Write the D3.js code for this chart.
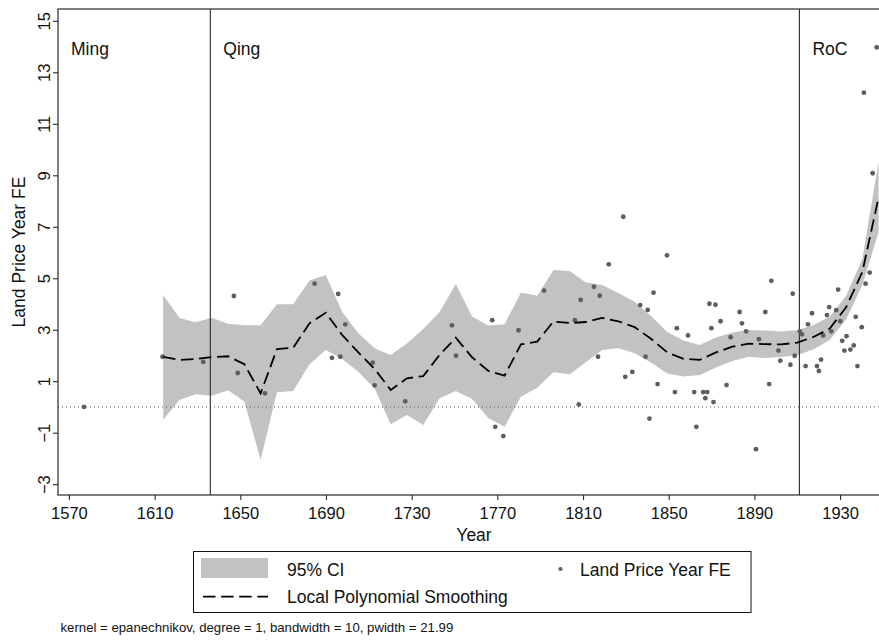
<!DOCTYPE html>
<html>
<head>
<meta charset="utf-8">
<script src="https://cdn.jsdelivr.net/npm/d3@7"></script>
<style>
  body { margin: 0; background: #fff; }
  svg { display: block; font-family: "Liberation Sans", Arial, Helvetica, sans-serif; }
</style>
</head>
<body>
<svg id="chart" width="879" height="640"></svg>
<script>
// Local polynomial fit evaluated on its grid (year, fit, 95% CI bounds)
const gridYears = [1614.0, 1621.6, 1629.1, 1636.7, 1644.3, 1651.9, 1659.5, 1667.1, 1674.7, 1682.3,
  1689.9, 1697.5, 1705.1, 1712.7, 1720.2, 1727.8, 1735.4, 1743.0, 1750.6, 1758.2,
  1765.8, 1773.4, 1781.0, 1788.6, 1796.2, 1803.8, 1811.3, 1818.9, 1826.5, 1834.1,
  1841.7, 1849.3, 1856.9, 1864.5, 1872.1, 1879.7, 1887.3, 1894.9, 1902.5, 1910.0,
  1917.6, 1925.2, 1932.8, 1940.4, 1948.0];
const smoothFit = [1.95, 1.83, 1.86, 1.94, 1.97, 1.66, 0.53, 2.25, 2.30, 3.25,
  3.66, 2.80, 2.12, 1.48, 0.66, 1.11, 1.20, 2.02, 2.69, 1.93,
  1.40, 1.22, 2.43, 2.54, 3.32, 3.26, 3.30, 3.46, 3.33, 3.10,
  2.65, 2.12, 1.87, 1.83, 2.12, 2.34, 2.46, 2.44, 2.43, 2.50,
  2.72, 3.05, 3.87, 5.25, 8.15];
const ciLower = [-0.50, 0.27, 0.49, 0.44, 0.65, 0.21, -2.06, 0.57, 0.62, 1.66,
  2.21, 1.86, 1.37, 0.72, -0.67, -0.31, -0.70, 0.34, 0.62, 0.31,
  -0.44, -0.77, 0.40, 0.75, 1.35, 1.27, 1.74, 2.21, 2.28, 2.09,
  1.73, 1.30, 1.18, 1.24, 1.53, 1.79, 1.95, 1.90, 1.94, 2.01,
  2.24, 2.60, 3.40, 4.75, 6.80];
const ciUpper = [4.35, 3.46, 3.29, 3.47, 3.23, 3.17, 3.17, 3.99, 3.99, 4.91,
  5.13, 3.70, 2.86, 2.28, 2.02, 2.47, 3.03, 3.68, 4.78, 3.51,
  3.16, 3.21, 4.45, 4.32, 5.32, 5.28, 4.84, 4.74, 4.43, 4.09,
  3.53, 2.91, 2.58, 2.41, 2.70, 2.89, 2.99, 2.97, 2.93, 2.98,
  3.18, 3.50, 4.32, 5.75, 9.55];

// Land price year fixed effects
const obsYears = [1577.0, 1613.7, 1632.7, 1647.0, 1648.8, 1661.5, 1684.7, 1695.7, 1692.8, 1696.7,
  1699.0, 1711.8, 1712.7, 1727.0, 1748.8, 1750.7, 1767.6, 1769.0, 1772.8, 1779.9,
  1791.8, 1806.2, 1808.9, 1808.0, 1815.1, 1817.8, 1817.0, 1822.0, 1828.8, 1829.7,
  1833.0, 1836.7, 1839.2, 1840.2, 1841.0, 1842.9, 1844.8, 1849.2, 1852.9, 1853.8,
  1859.0, 1861.9, 1862.9, 1866.1, 1867.1, 1868.0, 1869.0, 1871.8, 1869.9, 1870.9,
  1874.2, 1877.0, 1878.9, 1883.1, 1884.2, 1886.1, 1890.7, 1892.1, 1895.1, 1896.9,
  1897.9, 1901.2, 1902.1, 1906.8, 1907.9, 1908.8, 1911.2, 1912.2, 1913.9, 1915.0,
  1916.9, 1919.2, 1920.1, 1921.1, 1922.1, 1923.9, 1924.9, 1925.9, 1928.2, 1929.1,
  1930.1, 1931.0, 1932.0, 1933.0, 1934.8, 1936.4, 1937.3, 1938.1, 1940.1, 1941.9,
  1943.8, 1941.1, 1945.2, 1947.1];
const obsValues = [0.00, 1.95, 1.75, 4.31, 1.32, 0.53, 4.79, 4.39, 1.91, 1.95,
  3.21, 1.72, 0.84, 0.22, 3.17, 1.99, 3.37, -0.77, -1.13, 2.98,
  4.52, 3.37, 4.16, 0.10, 4.67, 4.32, 1.95, 5.54, 7.39, 1.17,
  1.36, 3.96, 1.95, 3.77, -0.45, 4.44, 0.89, 5.89, 0.58, 3.06,
  2.78, 0.58, -0.77, 0.58, 0.34, 0.58, 4.01, 3.97, 3.06, 0.19,
  3.33, 0.85, 2.71, 3.69, 3.25, 2.94, -1.64, 2.63, 3.69, 0.89,
  4.90, 2.19, 1.80, 1.64, 4.40, 1.99, 2.94, 2.82, 1.59, 3.21,
  3.64, 1.59, 1.40, 1.84, 2.78, 3.57, 3.88, 2.94, 3.76, 4.56,
  3.33, 2.57, 2.19, 2.75, 2.23, 2.39, 3.50, 1.59, 3.10, 4.79,
  5.22, 12.21, 9.08, 13.97];

// Axis ticks and dynasty periods
const xTicks = [1570, 1610, 1650, 1690, 1730, 1770, 1810, 1850, 1890, 1930];
const yTicks = [-3, -1, 1, 3, 5, 7, 9, 11, 13, 15];
const periodNames = ["Ming", "Qing", "RoC"];
const periodBreaks = [1636, 1911];

const noteText = "kernel = epanechnikov, degree = 1, bandwidth = 10, pwidth = 21.99";

const svg = d3.select("#chart");
const plot = { left: 58, top: 9, right: 890, bottom: 495 };

const x = d3.scaleLinear().domain([1564.9, 1953.3]).range([plot.left, plot.right]);
const y = d3.scaleLinear().domain([-3.42, 15.46]).range([plot.bottom, plot.top]);

const bandColor = "#c2c2c2";
const dotColor = "#5e5e5e";
const frameColor = "#2a2a2a";

svg.append("defs").append("clipPath").attr("id", "plotClip")
  .append("rect")
  .attr("x", plot.left).attr("y", plot.top)
  .attr("width", plot.right - plot.left).attr("height", plot.bottom - plot.top);

const g = svg.append("g").attr("clip-path", "url(#plotClip)");

// 95% confidence band
const fitRows = gridYears.map((yr, i) => ({ yr, fit: smoothFit[i], lo: ciLower[i], hi: ciUpper[i] }));
g.append("path")
  .datum(fitRows)
  .attr("fill", bandColor)
  .attr("d", d3.area().x(d => x(d.yr)).y0(d => y(d.lo)).y1(d => y(d.hi)));

// reference line at zero
g.append("line")
  .attr("x1", plot.left).attr("x2", plot.right)
  .attr("y1", y(0)).attr("y2", y(0))
  .attr("stroke", "#555").attr("stroke-width", 1)
  .attr("stroke-dasharray", "1,3");

// dynasty boundaries
g.selectAll(".period-line")
  .data(periodBreaks)
  .join("line")
  .attr("x1", d => x(d)).attr("x2", d => x(d))
  .attr("y1", plot.top).attr("y2", plot.bottom)
  .attr("stroke", frameColor).attr("stroke-width", 1.1);

// observations
const obs = obsYears.map((yr, i) => ({ yr, v: obsValues[i] }));
g.selectAll(".obs")
  .data(obs)
  .join("circle")
  .attr("cx", d => x(d.yr)).attr("cy", d => y(d.v))
  .attr("r", 2.4).attr("fill", dotColor);

// smoothed fit
g.append("path")
  .datum(fitRows)
  .attr("fill", "none")
  .attr("stroke", "#000").attr("stroke-width", 1.8)
  .attr("stroke-dasharray", "12.5,5.6")
  .attr("d", d3.line().x(d => x(d.yr)).y(d => y(d.fit)));

// period labels
const labelStarts = [x.domain()[0], ...periodBreaks];
svg.selectAll(".period-label")
  .data(periodNames)
  .join("text")
  .attr("x", (d, i) => x(labelStarts[i]) + 13)
  .attr("y", 54.5)
  .attr("font-size", 17.5)
  .attr("fill", "#111")
  .text(d => d);

// plot region frame
svg.append("rect")
  .attr("x", plot.left).attr("y", plot.top)
  .attr("width", plot.right - plot.left).attr("height", plot.bottom - plot.top)
  .attr("fill", "none").attr("stroke", frameColor).attr("stroke-width", 1.2);

// x axis
const xAxis = svg.append("g").attr("transform", `translate(0,${plot.bottom})`)
  .call(d3.axisBottom(x).tickValues(xTicks).tickFormat(d3.format("d")).tickSize(5).tickPadding(7));
xAxis.select(".domain").remove();
xAxis.selectAll(".tick line").attr("stroke", frameColor).attr("stroke-width", 1.1);
xAxis.selectAll(".tick text").attr("font-size", 16.5).attr("fill", "#111")
  .attr("font-family", "'Liberation Sans', Arial, sans-serif");

// y axis with vertical labels
const yAxis = svg.append("g").attr("transform", `translate(${plot.left},0)`)
  .call(d3.axisLeft(y).tickValues(yTicks).tickFormat(d3.format("d")).tickSize(5));
yAxis.select(".domain").remove();
yAxis.selectAll(".tick line").attr("stroke", frameColor).attr("stroke-width", 1.1);
yAxis.selectAll(".tick text")
  .attr("font-size", 16.5).attr("fill", "#111")
  .attr("font-family", "'Liberation Sans', Arial, sans-serif")
  .attr("x", null).attr("dy", null)
  .attr("text-anchor", "middle")
  .attr("transform", "translate(-8,0) rotate(-90)");

// axis titles
svg.append("text")
  .attr("x", (plot.left + plot.right) / 2).attr("y", 540.5)
  .attr("text-anchor", "middle").attr("font-size", 17.5).attr("fill", "#111")
  .text("Year");
svg.append("text")
  .attr("transform", `translate(25,${(plot.top + plot.bottom) / 2}) rotate(-90)`)
  .attr("text-anchor", "middle").attr("font-size", 17.5).attr("fill", "#111")
  .text("Land Price Year FE");

// legend
const legend = svg.append("g");
legend.append("rect")
  .attr("x", 193.5).attr("y", 551.5).attr("width", 557.5).attr("height", 61)
  .attr("fill", "#fff").attr("stroke", "#111").attr("stroke-width", 1);
legend.append("rect")
  .attr("x", 201).attr("y", 558).attr("width", 67).attr("height", 20)
  .attr("fill", bandColor);
legend.append("text").attr("x", 287).attr("y", 575.5)
  .attr("font-size", 17.5).attr("fill", "#111").text("95% CI");
legend.append("circle").attr("cx", 560.5).attr("cy", 569).attr("r", 2.1).attr("fill", dotColor);
legend.append("text").attr("x", 580).attr("y", 575.5)
  .attr("font-size", 17.5).attr("fill", "#111").text("Land Price Year FE");
legend.append("line")
  .attr("x1", 203).attr("x2", 268).attr("y1", 596.7).attr("y2", 596.7)
  .attr("stroke", "#000").attr("stroke-width", 1.8).attr("stroke-dasharray", "12.5,5.6");
legend.append("text").attr("x", 287).attr("y", 603)
  .attr("font-size", 17.5).attr("fill", "#111").text("Local Polynomial Smoothing");

// estimation note
svg.append("text").attr("x", 60.5).attr("y", 631.5)
  .attr("font-size", 13.2).attr("fill", "#111").text(noteText);
</script>
</body>
</html>
